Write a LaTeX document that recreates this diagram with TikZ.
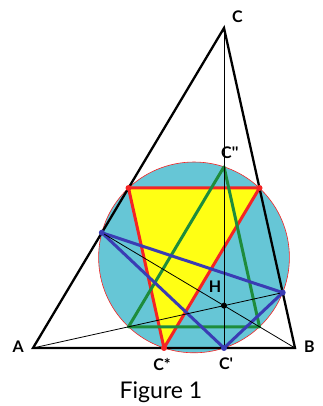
\documentclass[tikz,border=0pt]{standalone}
\usepackage{fontspec}
\setmainfont{Lato}
\usetikzlibrary{calc}
\definecolor{nc}{HTML}{66C6D6}
\definecolor{md}{HTML}{F42424}
\definecolor{eu}{HTML}{1E8C3C}
\definecolor{ot}{HTML}{3A3CB4}
\definecolor{yl}{HTML}{FFFF14}

\begin{document}
\begin{tikzpicture}[x=1pt,y=1pt,
    lbl/.style={font=\fontsize{16}{16}\selectfont\bfseries, inner sep=0pt},
    side/.style={line width=2.3pt, line cap=round},
    alt/.style={line width=0.8pt},
    tri/.style={line width=3pt, line join=round},
    pt/.style={circle, fill=#1, inner sep=0pt, minimum size=6pt}]
  \useasboundingbox (0,0) rectangle (322,406);
  % triangle ABC
  \coordinate (A) at (33,58);
  \coordinate (B) at (295,58);
  \coordinate (C) at (224,378);
  % feet of the altitudes
  \coordinate (Cp) at ($(A)!(C)!(B)$);
  \coordinate (Ap) at ($(B)!(A)!(C)$);
  \coordinate (Bp) at ($(A)!(B)!(C)$);
  \coordinate (H) at (intersection of A--Ap and C--Cp);
  % midpoints
  \coordinate (Cs) at ($(A)!0.5!(B)$);
  \coordinate (Ma) at ($(B)!0.5!(C)$);
  \coordinate (Mb) at ($(A)!0.5!(C)$);
  \coordinate (Cpp) at ($(C)!0.5!(H)$);
  \coordinate (Ha) at ($(A)!0.5!(H)$);
  \coordinate (Hb) at ($(B)!0.5!(H)$);
  \coordinate (N) at ($(Cs)!0.5!(Cpp)$);

  % nine-point circle
  \path[fill=nc, draw=md, line width=0.6pt] let \p1=($(Cpp)-(N)$), \n1={veclen(\x1,\y1)} in
    (N) circle [radius=\n1];
  \fill[yl] (Mb) -- (Ma) -- (Cs) -- cycle;

  \draw[md, tri] (Mb) -- (Ma) -- (Cs) -- cycle;
  \draw[eu, tri] (Cpp) -- (Hb) -- (Ha) -- cycle;
  \draw[ot, tri] (Bp) -- (Ap) -- (Cp) -- cycle;

  \draw[alt] (A) -- (Ap);
  \draw[alt] (B) -- (Bp);
  \draw[alt] (C) -- (Cp);
  \draw[side] (A) -- (B) -- (C) -- cycle;

  \node[pt=md] (dMb) at (Mb) {};
  \node[pt=md] (dMa) at (Ma) {};
  \node[pt=md] (dCs) at (Cs) {};
  \node[pt=ot] (dAp) at (Ap) {};
  \node[pt=ot] (dBp) at (Bp) {};
  \node[pt=ot] (dCp) at (Cp) {};
  \node[pt=black] (dH) at (H) {};

  \node[lbl, anchor=east] (lA) at ($(A)+(-9,1)$) {A};
  \node[lbl, anchor=west] (lB) at ($(B)+(9,1)$) {B};
  \node[lbl, anchor=west] (lC) at ($(C)+(8,11)$) {C};
  \node[lbl, anchor=south west] (lCpp) at ($(Cpp)+(-3,8)$) {C\textquotesingle\textquotesingle};
  \node[lbl] (lH) at ($(H)+(-9,19)$) {H};
  \node[lbl, anchor=north] (lCs) at ($(Cs)+(-2,-10)$) {C*};
  \node[lbl, anchor=north] (lCp) at ($(Cp)+(2,-10)$) {C\textquotesingle};
  \node[font=\fontsize{23}{23}\selectfont] (cap) at (161,14) {Figure 1};
\end{tikzpicture}
\end{document}
